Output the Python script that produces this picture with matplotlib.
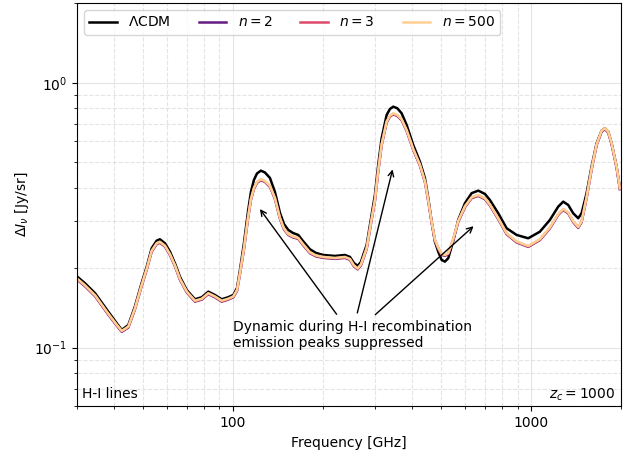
import matplotlib.pyplot as plt
from matplotlib.ticker import ScalarFormatter

# Frequencies [GHz] and spectral distortion [Jy/sr]
freq = [30.0, 31.9, 34.5, 38.2, 40.8, 42.4, 44.6, 46.9, 49.4, 51.4,
        53.4, 55.5, 56.9, 59.2, 61.5, 63.9, 66.4, 70.0, 74.6, 78.6,
        82.7, 87.0, 91.7, 96.4, 100.3, 103.2, 105.6, 108.9, 112.3, 114.9,
        117.6, 120.4, 124.1, 128.0, 133.1, 138.3, 143.8, 148.3, 153.3, 158.9,
        165.6, 171.7, 181.2, 189.8, 200.8, 219.8, 237.4, 246.8, 254.5, 261.9,
        268.7, 274.9, 280.8, 291.7, 299.3, 307.0, 315.2, 327.6, 336.1, 344.8,
        355.6, 367.8, 382.3, 402.3, 423.6, 440.4, 451.8, 463.7, 475.6, 487.9,
        500.9, 513.8, 527.1, 547.8, 569.3, 599.5, 631.4, 664.5, 699.7, 727.0,
        775.3, 827.2, 893.6, 977.2, 1069.6, 1155.3, 1232.0, 1280.5, 1331.0, 1383.0,
        1437.6, 1475.7, 1533.6, 1594.0, 1657.0, 1722.0, 1766.5, 1812.6, 1860.5, 1933.5,
        1983.5]

lcdm = [0.1856, 0.1750, 0.1604, 0.1367, 0.1235, 0.1166, 0.1217, 0.1427, 0.1750, 0.2021,
        0.2372, 0.2533, 0.2564, 0.2476, 0.2302, 0.2082, 0.1853, 0.1650, 0.1522, 0.1549,
        0.1626, 0.1580, 0.1522, 0.1549, 0.1580, 0.1679, 0.1964, 0.2483, 0.3252, 0.3870,
        0.4294, 0.4544, 0.4656, 0.4584, 0.4369, 0.3870, 0.3224, 0.2929, 0.2780, 0.2709,
        0.2662, 0.2526, 0.2351, 0.2277, 0.2237, 0.2218, 0.2237, 0.2199, 0.2087, 0.2034,
        0.2106, 0.2277, 0.2441, 0.3168, 0.3771, 0.4892, 0.6170, 0.7556, 0.7960, 0.8121,
        0.8009, 0.7668, 0.6927, 0.5820, 0.5034, 0.4358, 0.3664, 0.2988, 0.2511, 0.2302,
        0.2142, 0.2111, 0.2174, 0.2526, 0.3033, 0.3506, 0.3827, 0.3914, 0.3802, 0.3608,
        0.3215, 0.2822, 0.2662, 0.2586, 0.2739, 0.3033, 0.3405, 0.3556, 0.3455, 0.3215,
        0.3078, 0.3215, 0.3827, 0.4820, 0.5906, 0.6592, 0.6731, 0.6535, 0.5906, 0.4820,
        0.3995]

n2 = [0.1809, 0.1705, 0.1563, 0.1332, 0.1209, 0.1147, 0.1191, 0.1392, 0.1705, 0.1970,
      0.2302, 0.2458, 0.2489, 0.2404, 0.2235, 0.2030, 0.1806, 0.1616, 0.1491, 0.1517,
      0.1592, 0.1548, 0.1491, 0.1517, 0.1548, 0.1637, 0.1898, 0.2358, 0.3062, 0.3613,
      0.3974, 0.4186, 0.4289, 0.4223, 0.4043, 0.3644, 0.3062, 0.2794, 0.2664, 0.2607,
      0.2573, 0.2441, 0.2272, 0.2210, 0.2181, 0.2163, 0.2181, 0.2144, 0.2026, 0.1974,
      0.2044, 0.2200, 0.2359, 0.3036, 0.3581, 0.4627, 0.5810, 0.7084, 0.7450, 0.7600,
      0.7495, 0.7221, 0.6579, 0.5576, 0.4866, 0.4212, 0.3572, 0.2964, 0.2535, 0.2365,
      0.2239, 0.2220, 0.2253, 0.2550, 0.2983, 0.3389, 0.3666, 0.3740, 0.3633, 0.3442,
      0.3054, 0.2680, 0.2496, 0.2400, 0.2546, 0.2819, 0.3170, 0.3310, 0.3211, 0.2975,
      0.2831, 0.2975, 0.3666, 0.4699, 0.5808, 0.6539, 0.6677, 0.6483, 0.5859, 0.4781,
      0.3963]

n3 = [0.1817, 0.1712, 0.1570, 0.1338, 0.1214, 0.1151, 0.1196, 0.1397, 0.1712, 0.1978,
      0.2312, 0.2468, 0.2499, 0.2413, 0.2244, 0.2038, 0.1814, 0.1622, 0.1497, 0.1523,
      0.1599, 0.1554, 0.1497, 0.1523, 0.1554, 0.1643, 0.1905, 0.2367, 0.3075, 0.3627,
      0.3990, 0.4203, 0.4307, 0.4240, 0.4060, 0.3658, 0.3075, 0.2806, 0.2674, 0.2617,
      0.2584, 0.2451, 0.2281, 0.2219, 0.2190, 0.2171, 0.2190, 0.2152, 0.2034, 0.1982,
      0.2052, 0.2209, 0.2368, 0.3048, 0.3596, 0.4645, 0.5834, 0.7112, 0.7480, 0.7630,
      0.7525, 0.7250, 0.6605, 0.5599, 0.4885, 0.4229, 0.3587, 0.2976, 0.2545, 0.2374,
      0.2248, 0.2229, 0.2262, 0.2561, 0.2995, 0.3402, 0.3681, 0.3755, 0.3647, 0.3456,
      0.3067, 0.2691, 0.2506, 0.2409, 0.2556, 0.2831, 0.3182, 0.3324, 0.3224, 0.2987,
      0.2843, 0.2987, 0.3681, 0.4718, 0.5832, 0.6566, 0.6704, 0.6509, 0.5882, 0.4801,
      0.3979]

n500 = [0.1824, 0.1719, 0.1576, 0.1343, 0.1219, 0.1156, 0.1201, 0.1403, 0.1719, 0.1986,
        0.2321, 0.2478, 0.2509, 0.2423, 0.2253, 0.2046, 0.1821, 0.1629, 0.1503, 0.1529,
        0.1605, 0.1560, 0.1503, 0.1529, 0.1560, 0.1650, 0.1913, 0.2377, 0.3087, 0.3642,
        0.4006, 0.4220, 0.4324, 0.4257, 0.4076, 0.3673, 0.3087, 0.2817, 0.2685, 0.2628,
        0.2594, 0.2461, 0.2290, 0.2228, 0.2199, 0.2180, 0.2199, 0.2161, 0.2042, 0.1990,
        0.2060, 0.2218, 0.2378, 0.3060, 0.3610, 0.4664, 0.5857, 0.7141, 0.7510, 0.7661,
        0.7555, 0.7279, 0.6632, 0.5621, 0.4905, 0.4246, 0.3601, 0.2988, 0.2555, 0.2384,
        0.2257, 0.2238, 0.2271, 0.2571, 0.3007, 0.3416, 0.3696, 0.3770, 0.3662, 0.3470,
        0.3079, 0.2702, 0.2516, 0.2419, 0.2566, 0.2842, 0.3195, 0.3337, 0.3237, 0.2999,
        0.2854, 0.2999, 0.3696, 0.4737, 0.5855, 0.6592, 0.6731, 0.6535, 0.5906, 0.4820,
        0.3995]

# arrow heads (peaks) and tails (near the note)
arrow_heads = [(121.6, 0.340), (344.8, 0.482), (651.3, 0.292)]
arrow_tails = [(225.5, 0.131), (259.9, 0.132), (295.4, 0.131)]

fig = plt.figure(figsize=(6.33, 4.54), dpi=100)
ax = fig.add_axes([0.1216, 0.105, 0.8594, 0.8884])

cmap = plt.cm.magma
ax.plot(freq, lcdm, color='k', lw=1.8, label=r'$\Lambda$CDM')
ax.plot(freq, n2, color=cmap(0.3), lw=1.8, label=r'$n=2$')
ax.plot(freq, n3, color=cmap(0.6), lw=1.8, label=r'$n=3$')
ax.plot(freq, n500, color=cmap(0.9), lw=1.8, label=r'$n=500$')

ax.set_xscale('log')
ax.set_yscale('log')
ax.set_xlim(30, 2000)
ax.set_ylim(0.06, 2)
ax.xaxis.set_major_formatter(ScalarFormatter())
ax.set_xlabel('Frequency [GHz]')
ax.set_ylabel(r'$\Delta I_\nu$ [Jy/sr]', labelpad=2)

ax.grid(True, which='major', color='0.85', lw=0.8, alpha=0.7)
ax.grid(True, which='minor', color='0.85', lw=0.8, ls='--', alpha=0.7)

ax.text(100, 0.127, 'Dynamic during H-I recombination\nemission peaks suppressed',
        va='top', ha='left', fontsize=10)
for head, tail in zip(arrow_heads, arrow_tails):
    ax.annotate('', xy=head, xytext=tail,
                arrowprops=dict(arrowstyle='->', color='k', lw=1))

ax.text(0.01, 0.02, 'H-I lines', transform=ax.transAxes, fontsize=10)
ax.text(0.99, 0.02, r'$z_c = 1000$', transform=ax.transAxes, ha='right', fontsize=10)

ax.legend(loc='upper left', ncol=4, fontsize=10)

fig.savefig('out.png', dpi=100)
